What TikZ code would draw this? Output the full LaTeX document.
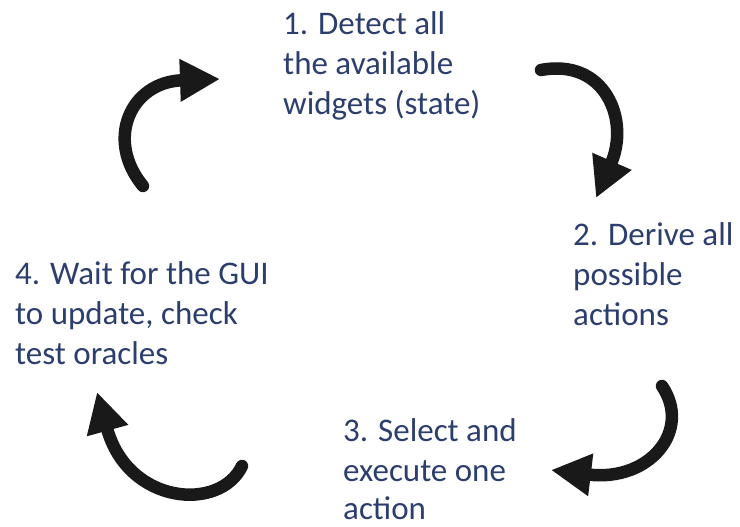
\documentclass[tikz,border=0pt]{standalone}
\usepackage{fontspec}
\setmainfont{Carlito}
\usetikzlibrary{arrows.meta}
\definecolor{textblue}{RGB}{44,62,110}
\tikzset{
  label text/.style={anchor=north west, inner sep=0pt, align=left, text=textblue,
    font=\fontsize{33}{40}\selectfont},
  cycle arrow/.style={line width=12.5pt, line cap=round, draw=black!90,
    -{Triangle[length=40pt,width=40pt]}}
}
\begin{document}
\begin{tikzpicture}[x=1pt,y=-1pt]
\useasboundingbox (0,0) rectangle (740,527);
\node[label text] (n1) at (283,11) {1. Detect all\\the available\\widgets (state)};
\node[label text] (n2) at (573,222) {2. Derive all\\possible\\actions};
\node[label text] (n3) at (343,418) {3. Select and\\execute one\\[-2pt]action};
\node[label text] (n4) at (15,261) {4. Wait for the GUI\\to update, check\\test oracles};
% arrow end points
\coordinate (a1s) at (143,186);
\coordinate (a1e) at (220,79);
\coordinate (a2s) at (541,70);
\coordinate (a2e) at (596,198);
\coordinate (a3s) at (662,386);
\coordinate (a3e) at (551,470);
\coordinate (a4s) at (242,466);
\coordinate (a4e) at (97,392);
\draw[cycle arrow] (a1s) .. controls (105,140) and (130,82) .. (a1e);
\draw[cycle arrow] (a2s) .. controls (605,58) and (630,120) .. (a2e);
\draw[cycle arrow] (a3s) .. controls (692,430) and (650,482) .. (a3e);
\draw[cycle arrow] (a4s) .. controls (220,512) and (128,505) .. (a4e);
\end{tikzpicture}
\end{document}
